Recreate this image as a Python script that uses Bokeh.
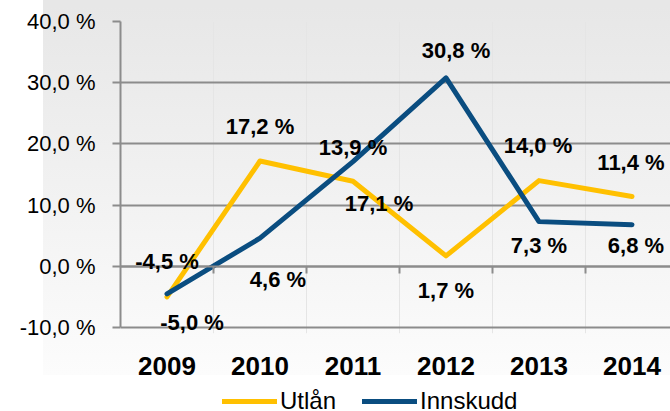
from bokeh.plotting import figure
from bokeh.layouts import column
from bokeh.models import (Range1d, FixedTicker, LinearAxis, Legend, LegendItem,
                          ColumnDataSource, Label, LabelSet, Grid)
from bokeh.core.properties import value
from bokeh.embed import file_html
from bokeh.resources import INLINE

# ---------------- data ----------------
title_text = "Netto Utlån"
years = ["2009", "2010", "2011", "2012", "2013", "2014"]
utlan = [-5.0, 17.2, 13.9, 1.7, 14.0, 11.4]
innskudd = [-4.5, 4.6, 17.1, 30.8, 7.3, 6.8]
series_names = ["Utlån", "Innskudd"]
y_ticks = [-10, 0, 10, 20, 30, 40]
y_tick_labels = ["-10,0 %", "0,0 %", "10,0 %", "20,0 %", "30,0 %", "40,0 %"]


def pct(v):
    return f"{v:.1f}".replace(".", ",") + " %"


# ---------------- styling / layout ----------------
FONT = "Liberation Sans"
W = 670
H_TITLE, H_LEG = 6, 24
H_MAIN = 411 - H_TITLE - H_LEG
FRAME_L, FRAME_R = 120, 670
FRAME_T = 21 - H_TITLE          # 40 % gridline
PX_PER_UNIT = 6.12
EXTRA_BOTTOM = 6                # room under -10 for the lowest label
FRAME_B = 327 - H_TITLE + EXTRA_BOTTOM
CAT_W = 93
GRID_C = "#8c8c8c"
YELLOW = "#FFC000"
BLUE = "#0A4D80"
BG = "#e7e7e7"

# label offsets (screen px) for each point
utlan_off = [(25, 26), (0, -35), (0, -34), (0, 35), (-1, -35), (-1, -34)]
innskudd_off = [(0, -32), (18, 41), (26, 42), (10, -27), (0, 24), (4, 21)]

x_pos = [i + 0.5 for i in range(len(years))]
bounds = [i for i in range(1, len(years))]

# ---------------- title strip (title cut off at the top) ----------------
pt = figure(width=W, height=H_TITLE, output_backend="svg", toolbar_location=None,
            x_range=Range1d(FRAME_L, FRAME_R), y_range=Range1d(0, H_TITLE),
            min_border=0, x_axis_location=None, y_axis_location=None)
pt.grid.visible = False
pt.outline_line_color = None
pt.border_fill_alpha = 0
pt.background_fill_alpha = 0
pt.styles = {"background": f"linear-gradient(to right, #ffffff 43px, rgba(255,255,255,0) 43px), {BG}"}
pt.add_layout(Label(x=367, y=1, text=title_text, text_font=FONT, text_font_style="bold",
                    text_font_size="34px", text_align="center", text_baseline="alphabetic",
                    text_color="black"))

# ---------------- main chart ----------------
p = figure(width=W, height=H_MAIN, output_backend="svg", toolbar_location=None,
           x_range=Range1d(0, (FRAME_R - FRAME_L) / CAT_W),
           y_range=Range1d(y_ticks[0] - EXTRA_BOTTOM / PX_PER_UNIT, y_ticks[-1]),
           min_border_left=FRAME_L, min_border_right=0,
           min_border_top=FRAME_T, min_border_bottom=H_MAIN - FRAME_B,
           x_axis_location=None, y_axis_location=None)
p.styles = {"background": "linear-gradient(to right, #ffffff 0px, #ffffff 43px, rgba(255,255,255,0) 43px), "
                          f"linear-gradient(to bottom, {BG} 0px, #fcfcfc 369px, #ffffff 369px)"}
p.border_fill_alpha = 0
p.background_fill_alpha = 0
p.outline_line_color = None

# horizontal grid
p.add_layout(Grid(dimension=1, ticker=FixedTicker(ticks=y_ticks),
                  grid_line_color=GRID_C, grid_line_width=2))

# y axis
yaxis = LinearAxis(ticker=FixedTicker(ticks=y_ticks), bounds=(y_ticks[0], y_ticks[-1]),
                   major_label_overrides={float(t): l for t, l in zip(y_ticks, y_tick_labels)},
                   axis_line_color=GRID_C, axis_line_width=2,
                   major_tick_line_color=GRID_C, major_tick_line_width=2,
                   major_tick_out=8, major_tick_in=0,
                   minor_tick_out=0, minor_tick_in=0,
                   major_label_standoff=17,
                   major_label_text_font=FONT, major_label_text_font_size="22px",
                   major_label_text_color="black")
p.add_layout(yaxis, "left")

# category label axis (at bottom)
xlab = LinearAxis(ticker=FixedTicker(ticks=x_pos),
                  major_label_overrides={float(x): y for x, y in zip(x_pos, years)},
                  axis_line_color=None, major_tick_line_color=None, minor_tick_line_color=None,
                  major_tick_out=0, major_tick_in=0, minor_tick_out=0, minor_tick_in=0,
                  major_label_standoff=29 - EXTRA_BOTTOM,
                  major_label_text_font=FONT, major_label_text_font_size="26px",
                  major_label_text_font_style="bold", major_label_text_color="black")
p.add_layout(xlab, "below")

# axis line at zero with boundary ticks
xzero = LinearAxis(fixed_location=0, ticker=FixedTicker(ticks=bounds),
                   major_label_overrides={float(b): "" for b in bounds},
                   axis_line_color=GRID_C, axis_line_width=2,
                   major_tick_line_color=GRID_C, major_tick_line_width=2,
                   major_tick_out=7, major_tick_in=0, minor_tick_out=0, minor_tick_in=0,
                   major_label_standoff=0, major_label_text_font_size="1px")
p.add_layout(xzero, "below")

# lines
line_kw = dict(line_width=5, line_join="round", line_cap="round")
r1 = p.line(x_pos, utlan, line_color=YELLOW, **line_kw)
r2 = p.line(x_pos, innskudd, line_color=BLUE, **line_kw)

# data labels
for vals, offs in ((utlan, utlan_off), (innskudd, innskudd_off)):
    src = ColumnDataSource(dict(x=x_pos, y=vals, t=[pct(v) for v in vals],
                                dx=[o[0] for o in offs], dy=[-o[1] for o in offs]))
    p.add_layout(LabelSet(x="x", y="y", text="t", x_offset="dx", y_offset="dy", source=src,
                          text_font=value(FONT), text_font_style="bold", text_font_size="22px",
                          text_align="center", text_baseline="middle", text_color="black"))

# ---------------- legend strip (same series, drawn outside its visible range) ----------------
pl = figure(width=W, height=H_LEG, output_backend="svg", toolbar_location=None,
            x_range=Range1d(1000, 1001), y_range=Range1d(1000, 1001),
            min_border=0, x_axis_location=None, y_axis_location=None)
pl.outline_line_color = None
pl.grid.visible = False
pl.border_fill_color = "white"
pl.background_fill_color = "white"
l1 = pl.line(x_pos, utlan, line_color=YELLOW, **line_kw)
l2 = pl.line(x_pos, innskudd, line_color=BLUE, **line_kw)
legend = Legend(items=[LegendItem(label=series_names[0], renderers=[l1]),
                       LegendItem(label=series_names[1], renderers=[l2])],
                orientation="horizontal", location=(222 - FRAME_L, -4),
                glyph_width=55, glyph_height=20, label_standoff=3, spacing=26,
                padding=0, margin=0, border_line_color=None, background_fill_alpha=0,
                label_text_font=FONT, label_text_font_size="24px", label_text_color="black",
                label_height=20)
pl.add_layout(legend)

layout = column(pt, p, pl, spacing=0)
open("out.html", "w").write(file_html(layout, INLINE))
